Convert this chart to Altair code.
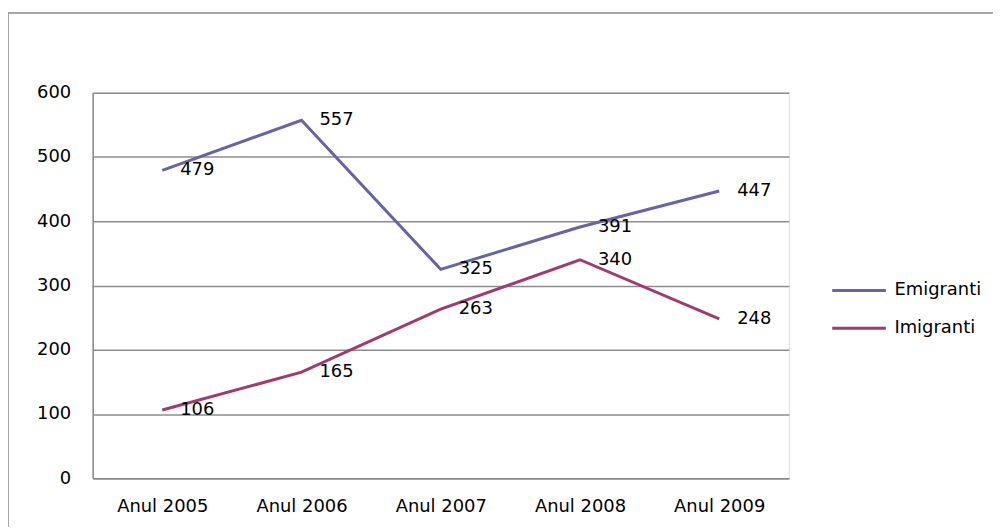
import altair as alt
import pandas as pd

years = ["Anul 2005", "Anul 2006", "Anul 2007", "Anul 2008", "Anul 2009"]
emigranti = [479, 557, 325, 391, 447]
imigranti = [106, 165, 263, 340, 248]
series = ["Emigranti", "Imigranti"]
colors = ["#6664A2", "#A23A6D"]

rows = []
for y, v in zip(years, emigranti):
    rows.append({"an": y, "val": v, "serie": series[0]})
for y, v in zip(years, imigranti):
    rows.append({"an": y, "val": v, "serie": series[1]})
df = pd.DataFrame(rows)

FONT = "DejaVu Sans"
FS = 18
W, H = 699, 387

x = alt.X("an:N", sort=years, title=None,
          scale=alt.Scale(type="point", padding=0.5),
          axis=alt.Axis(labelAngle=0, labelFontSize=FS, labelFont=FONT, labelColor="#000",
                        labelPadding=19, ticks=False, domainColor="#888", domainWidth=1.5,
                        grid=False))
y = alt.Y("val:Q", title=None,
          scale=alt.Scale(domain=[0, 600], nice=False),
          axis=alt.Axis(values=[0, 100, 200, 300, 400, 500, 600], labelFontSize=FS, labelFont=FONT,
                        labelColor="#000", labelPadding=22, ticks=False, domainColor="#888",
                        domainWidth=1.5, gridColor="#8C8C8C", gridWidth=1.5))
color = alt.Color("serie:N", scale=alt.Scale(domain=series, range=colors),
                  legend=alt.Legend(title=None, orient="none", legendX=741, legendY=170,
                                    symbolType="stroke", symbolSize=2900, symbolStrokeWidth=3,
                                    labelFontSize=FS, labelFont=FONT, labelColor="#000",
                                    labelOffset=7, rowPadding=0))

base = alt.Chart(df)
lines = base.mark_line(strokeWidth=3).encode(x=x, y=y, color=color)
labels = base.mark_text(align="left", baseline="middle", dx=18, fontSize=FS, font=FONT,
                        color="#000").encode(x=x, y=y, text="val:Q")

border = alt.Chart(pd.DataFrame({"a": [0]})).mark_rect(fill=None, stroke="#8A8A8A",
                                                       strokeWidth=1.5).encode(
    x=alt.value(-85), x2=alt.value(W + 400), y=alt.value(-80), y2=alt.value(H + 300))

chart = alt.layer(border, lines, labels).properties(
    width=W, height=H,
    autosize=alt.AutoSizeParams(type="none"),
    padding={"left": 85, "top": 84, "right": 205, "bottom": 48},
).configure_view(stroke=None).configure(background="white")

chart.save("out.html", embed_options={"renderer": "svg", "actions": False})
